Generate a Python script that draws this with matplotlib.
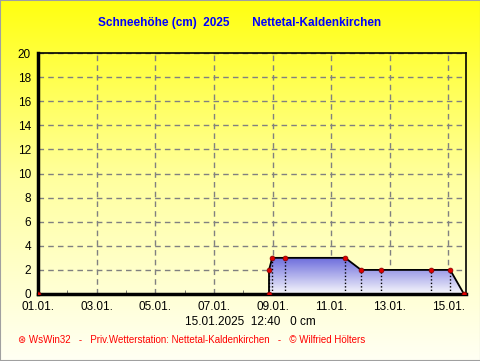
import matplotlib
matplotlib.use("Agg")
import matplotlib.pyplot as plt
import numpy as np
from matplotlib.colors import LinearSegmentedColormap
from matplotlib.patches import Polygon, Rectangle

plt.rcParams['font.family'] = ['Liberation Sans', 'DejaVu Sans']

# snow depth readings (day of January as float, cm)
snow_days = [1.0, 8.88, 8.88, 8.99, 9.43, 11.48, 12.02, 12.71, 14.41, 15.06, 15.53]
snow_cm = [0, 0, 2, 3, 3, 3, 2, 2, 2, 2, 0]

tick_days = [1, 3, 5, 7, 9, 11, 13, 15]
tick_labels = ["01.01.", "03.01.", "05.01.", "07.01.", "09.01.", "11.01.", "13.01.", "15.01."]
y_ticks = list(range(0, 21, 2))

title = "Schneehöhe (cm)  2025       Nettetal-Kaldenkirchen"
status = "15.01.2025  12:40   0 cm"
footer = "\u229b WsWin32   -   Priv.Wetterstation: Nettetal-Kaldenkirchen   -   \u00a9 Wilfried Hölters"

fig = plt.figure(figsize=(4.81, 3.61), dpi=100)

# yellow background gradient over the whole figure
bg = fig.add_axes([0, 0, 1, 1], zorder=-2)
bg_cmap = LinearSegmentedColormap.from_list("bg", ["#fffff4", "#ffffa0", "#ffff10"])
bg.imshow(np.linspace(0, 1, 256).reshape(-1, 1), cmap=bg_cmap, aspect='auto',
          origin='lower', extent=[0, 1, 0, 1])
bg.set_axis_off()

ax = fig.add_axes([38 / 481, 67 / 361, 428 / 481, 241 / 361])
ax.set_facecolor('none')
xmin, xmax = 1.0, 15.6

# gradient fill under the curve
top = max(snow_cm)
fill_cmap = LinearSegmentedColormap.from_list("fill", ["#f8f8fc", "#6a6adc"])
im = ax.imshow(np.linspace(0, 1, 256).reshape(-1, 1), cmap=fill_cmap, aspect='auto',
               origin='lower', extent=[xmin, xmax, 0, top], zorder=1)
poly = Polygon(list(zip(snow_days, snow_cm)), closed=True, facecolor='none',
               edgecolor='none', transform=ax.transData)
ax.add_patch(poly)
im.set_clip_path(poly)
ax.set_xlim(xmin, xmax)
ax.set_ylim(0, 20)

# drop lines from each reading
for d, v in zip(snow_days, snow_cm):
    if v > 0:
        ax.plot([d, d], [0, v], color='black', lw=1, ls=(0, (1, 1.5)), zorder=2)

ax.plot(snow_days, snow_cm, color='black', lw=1.3, zorder=3)
ax.plot(snow_days, snow_cm, 'o', ms=3.5, mfc='#e00000', mec='#800000', mew=0.5, zorder=4)

ax.grid(True, color='#808080', ls=(0, (4, 3)), lw=1, zorder=0)
ax.set_axisbelow(True)
ax.set_xticks(tick_days)
ax.set_xticklabels(tick_labels)
ax.set_xticks(np.arange(1, 16), minor=True)
ax.set_yticks(y_ticks)
ax.tick_params(axis='both', labelsize=8.5, colors='black', length=0, pad=5)
ax.tick_params(axis='x', which='minor', direction='in', length=3, color='#606060')

for side in ['top', 'right']:
    ax.spines[side].set_linewidth(1.2)
for side in ['left', 'bottom']:
    ax.spines[side].set_linewidth(2.5)

fig.text(240 / 481, 1 - 23 / 361, title, color='#0000ff', fontsize=8.5,
         fontweight='bold', ha='center', va='center')
fig.text(250 / 481, 1 - 322 / 361, status, color='black', fontsize=8.5,
         ha='center', va='center')
fig.text(18 / 481, 1 - 340 / 361, footer, color='#ff0000', fontsize=7.0,
         ha='left', va='center')

# grey frame edges on right and bottom
fig.add_artist(Rectangle((0, 0), 1, 1, transform=fig.transFigure, fill=False,
                         edgecolor='#a0a0a0', lw=1.5))

fig.savefig("out.png", dpi=100)
